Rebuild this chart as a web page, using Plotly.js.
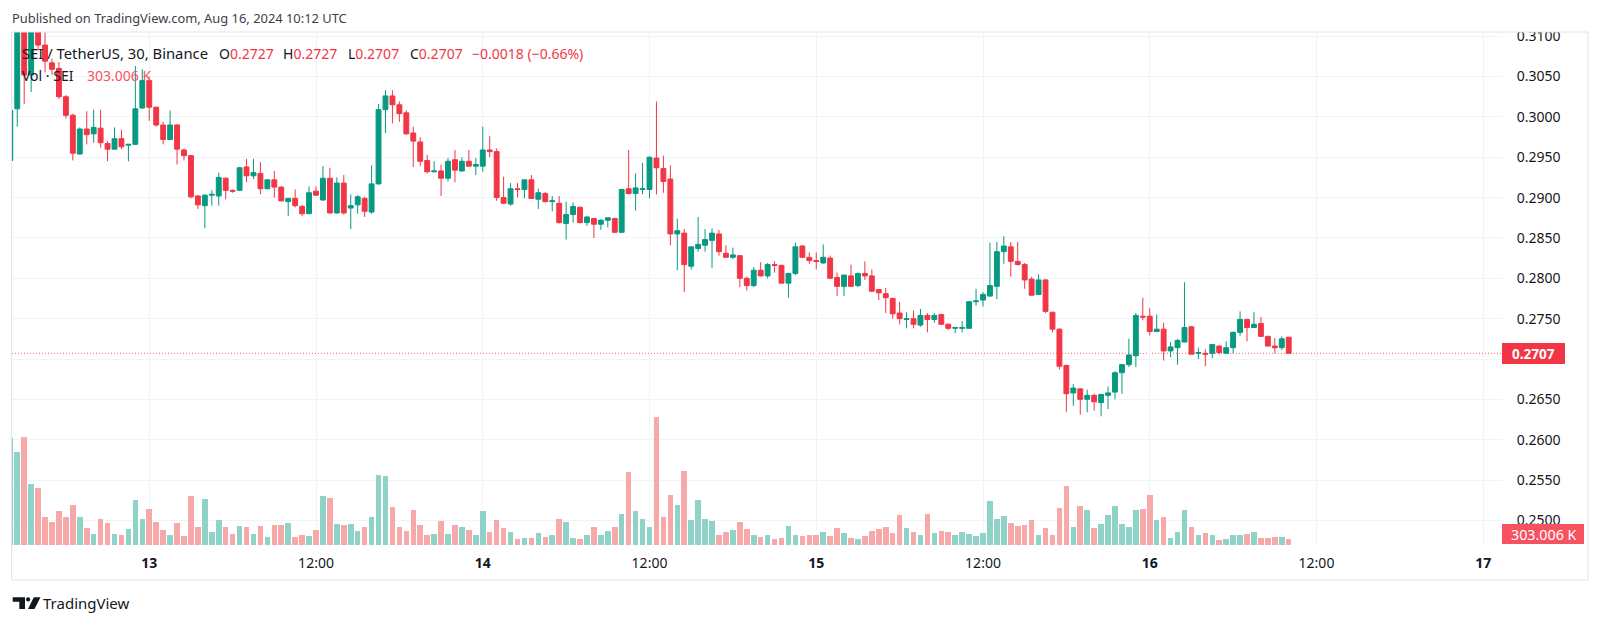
<!DOCTYPE html>
<html><head><meta charset="utf-8">
<script src="https://cdn.plot.ly/plotly-3.0.1.min.js"></script>
<style>html,body{margin:0;padding:0;background:#fff;}#chart{width:1600px;height:625px;}</style>
</head><body><div id="chart"></div>
<script>
// ---- data: SEI/USDT 30-minute candles, Binance, starting 2024-08-12 14:00 UTC ----
const startTimeUTC = Date.UTC(2024, 7, 12, 14, 0);
const candleMinutes = 30;

const open = [
0.2946,0.3010,0.3125,0.3052,0.3115,0.3089,0.3067,0.3060,0.3025,0.3002,
0.2954,0.2985,0.2979,0.2986,0.2967,0.2960,0.2973,0.2965,0.2966,0.3011,
0.3045,0.3012,0.2990,0.2972,0.2990,0.2959,0.2952,0.2902,0.2890,0.2903,
0.2902,0.2924,0.2909,0.2909,0.2938,0.2927,0.2930,0.2911,0.2922,0.2913,
0.2895,0.2899,0.2889,0.2880,0.2908,0.2897,0.2924,0.2881,0.2918,0.2887,
0.2891,0.2899,0.2882,0.2917,0.3009,0.3026,0.3015,0.3005,0.2980,0.2969,
0.2946,0.2932,0.2933,0.2924,0.2947,0.2933,0.2945,0.2939,0.2939,0.2959,
0.2957,0.2900,0.2892,0.2911,0.2910,0.2922,0.2898,0.2905,0.2895,0.2893,
0.2868,0.2879,0.2888,0.2869,0.2874,0.2867,0.2872,0.2874,0.2857,0.2911,
0.2905,0.2910,0.2910,0.2949,0.2936,0.2923,0.2855,0.2856,0.2815,0.2837,
0.2841,0.2847,0.2855,0.2831,0.2826,0.2828,0.2800,0.2791,0.2810,0.2803,
0.2817,0.2816,0.2794,0.2806,0.2840,0.2826,0.2822,0.2819,0.2825,0.2801,
0.2790,0.2803,0.2791,0.2806,0.2803,0.2786,0.2781,0.2775,0.2757,0.2749,
0.2750,0.2742,0.2754,0.2749,0.2755,0.2743,0.2738,0.2738,0.2738,0.2771,
0.2773,0.2778,0.2790,0.2833,0.2839,0.2821,0.2817,0.2799,0.2780,0.2798,
0.2758,0.2737,0.2692,0.2658,0.2663,0.2650,0.2655,0.2646,0.2655,0.2659,
0.2683,0.2693,0.2704,0.2753,0.2753,0.2734,0.2737,0.2710,0.2714,0.2721,
0.2740,0.2707,0.2707,0.2707,0.2716,0.2707,0.2714,0.2733,0.2749,0.2739,
0.2744,0.2728,0.2716,0.2714,0.2727
];
const high = [
0.3012,0.3135,0.3132,0.3130,0.3122,0.3110,0.3072,0.3068,0.3027,0.3004,
0.2987,0.3007,0.3009,0.3009,0.2970,0.2987,0.2984,0.2966,0.3063,0.3059,
0.3050,0.3013,0.2994,0.3008,0.2991,0.2961,0.2953,0.2903,0.2904,0.2909,
0.2931,0.2925,0.2910,0.2938,0.2948,0.2948,0.2944,0.2923,0.2933,0.2914,
0.2900,0.2910,0.2891,0.2914,0.2914,0.2939,0.2937,0.2925,0.2928,0.2904,
0.2903,0.2901,0.2940,0.3016,0.3033,0.3033,0.3019,0.3008,0.2988,0.2975,
0.2953,0.2945,0.2941,0.2949,0.2959,0.2950,0.2959,0.2949,0.2988,0.2976,
0.2961,0.2926,0.2918,0.2918,0.2922,0.2928,0.2911,0.2907,0.2902,0.2902,
0.2895,0.2894,0.2889,0.2877,0.2875,0.2873,0.2876,0.2875,0.2911,0.2959,
0.2930,0.2943,0.2951,0.3019,0.2952,0.2940,0.2874,0.2861,0.2839,0.2876,
0.2861,0.2862,0.2860,0.2841,0.2838,0.2829,0.2802,0.2814,0.2820,0.2819,
0.2821,0.2817,0.2807,0.2844,0.2841,0.2832,0.2832,0.2842,0.2828,0.2807,
0.2804,0.2817,0.2807,0.2821,0.2811,0.2786,0.2788,0.2776,0.2771,0.2758,
0.2760,0.2762,0.2757,0.2757,0.2756,0.2744,0.2739,0.2747,0.2772,0.2787,
0.2783,0.2844,0.2845,0.2852,0.2845,0.2845,0.2819,0.2802,0.2805,0.2799,
0.2758,0.2738,0.2693,0.2669,0.2663,0.2662,0.2657,0.2657,0.2666,0.2685,
0.2694,0.2725,0.2757,0.2776,0.2763,0.2755,0.2745,0.2721,0.2725,0.2795,
0.2741,0.2714,0.2712,0.2718,0.2717,0.2722,0.2734,0.2759,0.2750,0.2758,
0.2752,0.2729,0.2726,0.2728,0.2727
];
const low = [
0.2940,0.2988,0.3016,0.3031,0.3082,0.3055,0.3052,0.3022,0.2998,0.2946,
0.2953,0.2966,0.2968,0.2962,0.2945,0.2960,0.2960,0.2945,0.2965,0.3010,
0.2995,0.2988,0.2966,0.2972,0.2941,0.2946,0.2899,0.2886,0.2862,0.2890,
0.2890,0.2898,0.2906,0.2908,0.2919,0.2923,0.2904,0.2910,0.2900,0.2895,
0.2877,0.2888,0.2877,0.2880,0.2902,0.2896,0.2880,0.2880,0.2879,0.2861,
0.2880,0.2876,0.2880,0.2916,0.2980,0.2992,0.2994,0.2978,0.2938,0.2939,
0.2930,0.2931,0.2902,0.2920,0.2919,0.2932,0.2939,0.2928,0.2932,0.2950,
0.2896,0.2892,0.2890,0.2900,0.2899,0.2899,0.2886,0.2894,0.2883,0.2868,
0.2848,0.2869,0.2868,0.2865,0.2850,0.2860,0.2863,0.2856,0.2856,0.2904,
0.2884,0.2904,0.2899,0.2904,0.2906,0.2841,0.2810,0.2783,0.2811,0.2833,
0.2833,0.2813,0.2828,0.2826,0.2824,0.2789,0.2785,0.2789,0.2802,0.2800,
0.2807,0.2794,0.2776,0.2804,0.2825,0.2818,0.2811,0.2818,0.2799,0.2778,
0.2778,0.2790,0.2789,0.2798,0.2783,0.2773,0.2757,0.2750,0.2743,0.2738,
0.2738,0.2740,0.2733,0.2745,0.2742,0.2736,0.2732,0.2733,0.2738,0.2766,
0.2765,0.2777,0.2774,0.2818,0.2802,0.2816,0.2787,0.2779,0.2779,0.2757,
0.2733,0.2687,0.2634,0.2642,0.2631,0.2634,0.2636,0.2629,0.2638,0.2650,
0.2657,0.2690,0.2690,0.2748,0.2729,0.2734,0.2698,0.2702,0.2693,0.2721,
0.2706,0.2700,0.2691,0.2701,0.2706,0.2707,0.2707,0.2729,0.2722,0.2739,
0.2728,0.2716,0.2707,0.2711,0.2707
];
const close = [
0.3008,0.3125,0.3052,0.3120,0.3089,0.3069,0.3059,0.3025,0.3002,0.2955,
0.2985,0.2978,0.2987,0.2968,0.2960,0.2973,0.2963,0.2966,0.3010,0.3045,
0.3012,0.2990,0.2972,0.2990,0.2960,0.2952,0.2901,0.2891,0.2903,0.2904,
0.2925,0.2909,0.2908,0.2937,0.2927,0.2931,0.2911,0.2922,0.2913,0.2896,
0.2899,0.2890,0.2880,0.2906,0.2903,0.2924,0.2881,0.2918,0.2881,0.2890,
0.2901,0.2883,0.2917,0.3009,0.3026,0.3015,0.3004,0.2979,0.2970,0.2945,
0.2932,0.2933,0.2924,0.2945,0.2934,0.2945,0.2939,0.2941,0.2959,0.2957,
0.2900,0.2893,0.2911,0.2910,0.2922,0.2899,0.2906,0.2895,0.2896,0.2869,
0.2879,0.2889,0.2869,0.2876,0.2867,0.2872,0.2875,0.2857,0.2910,0.2905,
0.2912,0.2911,0.2950,0.2937,0.2920,0.2855,0.2859,0.2817,0.2839,0.2842,
0.2848,0.2856,0.2833,0.2826,0.2829,0.2800,0.2791,0.2810,0.2803,0.2817,
0.2816,0.2794,0.2806,0.2839,0.2826,0.2822,0.2821,0.2826,0.2800,0.2790,
0.2804,0.2790,0.2806,0.2803,0.2784,0.2782,0.2776,0.2756,0.2750,0.2750,
0.2743,0.2754,0.2749,0.2754,0.2743,0.2738,0.2739,0.2739,0.2771,0.2772,
0.2780,0.2791,0.2833,0.2840,0.2821,0.2817,0.2798,0.2779,0.2798,0.2759,
0.2737,0.2691,0.2657,0.2664,0.2650,0.2655,0.2647,0.2656,0.2658,0.2683,
0.2693,0.2705,0.2754,0.2752,0.2734,0.2737,0.2710,0.2715,0.2723,0.2739,
0.2706,0.2708,0.2706,0.2718,0.2708,0.2714,0.2733,0.2749,0.2739,0.2743,
0.2728,0.2716,0.2714,0.2725,0.2707
];
// volume in thousands of SEI
const volumeK = [
5400,4670,5426,3058,2856,1428,1142,1714,1428,1999,
1428,857,571,1294,1092,538,521,806,2251,1294,
1814,1142,756,487,1109,437,2470,907,2302,672,
1243,907,538,958,907,571,958,403,1008,1008,
1092,403,487,437,756,2470,2386,1058,1008,1058,
706,907,1428,3528,3478,1915,907,706,1764,1008,
487,538,1193,538,1008,907,756,487,1714,672,
1243,857,672,302,353,353,622,386,487,1294,
1142,353,302,521,907,521,706,907,1562,3679,
1714,1294,907,6434,1394,2520,1999,3730,1260,2251,
1294,1193,521,672,756,1142,806,487,386,487,
302,353,958,487,437,521,521,672,470,857,
622,353,302,437,706,806,907,622,1529,857,
672,521,1579,622,722,672,487,672,571,437,
588,2201,1294,1478,1109,958,1008,1243,521,857,
521,1865,2990,907,1949,1764,857,1058,1529,1949,
1058,907,1764,1814,2520,1243,1394,353,672,1764,
907,487,622,521,252,302,487,487,571,672,
353,353,403,403,303.006
];

const timeTickVals = ['2024-08-13 00:00','2024-08-13 12:00','2024-08-14 00:00','2024-08-14 12:00',
  '2024-08-15 00:00','2024-08-15 12:00','2024-08-16 00:00','2024-08-16 12:00','2024-08-17 00:00'];
const timeTickText = ['<b>13</b>','12:00','<b>14</b>','12:00','<b>15</b>','12:00','<b>16</b>','12:00','<b>17</b>'];
const priceTickVals = [0.2500,0.2550,0.2600,0.2650,0.2700,0.2750,0.2800,0.2850,0.2900,0.2950,0.3000,0.3050,0.3100];
const priceTickText = ['0.2500','0.2550','0.2600','0.2650','0.2700','0.2750','0.2800','0.2850','0.2900','0.2950','0.3000','0.3050','0.3100'];

const lastPrice = 0.2707;
const lastPriceLabel = '0.2707';
const lastVolumeLabel = '303.006 K';
const headerText = 'Published on TradingView.com, Aug 16, 2024 10:12 UTC';

// ---- derived ----
function fmt(ms){ return new Date(ms).toISOString().slice(0,16).replace('T',' '); }
const times = open.map((_, i) => fmt(startTimeUTC + i * candleMinutes * 60000));

const UP = '#089981', DOWN = '#F23645';
const volColors = close.map((c, i) => c >= open[i] ? '#8fd2c7' : '#f7a8a8');

// pixel layout helpers
const W = 1600, H = 625, L = 12, R = 1502, T = 32, B = 545;
const px = x => (x - L) / (R - L);
const py = y => (B - y) / (B - T);
const FONT = "'Noto Sans', sans-serif";
const TXT = '#131722';

const volTrace = {
  type: 'bar', x: times, y: volumeK, yaxis: 'y2',
  width: candleMinutes * 60000 * 0.8,
  marker: { color: volColors, line: { width: 0 } },
  hoverinfo: 'skip'
};
const candleTrace = {
  type: 'candlestick', x: times, open: open, high: high, low: low, close: close,
  increasing: { line: { color: UP, width: 1 }, fillcolor: UP },
  decreasing: { line: { color: DOWN, width: 1 }, fillcolor: DOWN },
  whiskerwidth: 0, hoverinfo: 'skip'
};

function rectShape(x0, y0, x1, y1, fill, line, layer) {
  return { type: 'rect', xref: 'paper', yref: 'paper', x0: px(x0), x1: px(x1), y0: py(y1), y1: py(y0),
    fillcolor: fill, line: line || { width: 0 }, layer: layer || 'above' };
}
function P(x, y) { return px(x).toFixed(5) + ',' + py(y).toFixed(5); }

const shapes = [
  { type: 'line', xref: 'paper', yref: 'y', x0: 0, x1: 1, y0: lastPrice, y1: lastPrice,
    line: { color: 'rgba(242,54,69,0.75)', width: 1, dash: '1px,2px' }, layer: 'below' },
  rectShape(R, 0, W, T, '#ffffff'),
  rectShape(R, 343, 1565, 364, '#F23645'),
  rectShape(R, 524, 1584, 544, '#F7525F'),
  rectShape(11.5, 32, 1588, 580, 'rgba(0,0,0,0)', { color: '#e0e3eb', width: 1 }),
  // TradingView logo mark
  { type: 'path', xref: 'paper', yref: 'paper', layer: 'above', fillcolor: TXT, line: { width: 0 },
    path: 'M' + P(12.7,597.3) + ' L' + P(25,597.3) + ' L' + P(25,609) + ' L' + P(19.3,609) + ' L' + P(19.3,601.8) + ' L' + P(12.7,601.8) + ' Z' },
  { type: 'circle', xref: 'paper', yref: 'paper', layer: 'above', fillcolor: TXT, line: { width: 0 },
    x0: px(26), x1: px(30.2), y0: py(601.5), y1: py(597.3) },
  { type: 'path', xref: 'paper', yref: 'paper', layer: 'above', fillcolor: TXT, line: { width: 0 },
    path: 'M' + P(33.8,597.3) + ' L' + P(40.5,597.3) + ' L' + P(34.5,609) + ' L' + P(28,609) + ' Z' }
];

function ann(x, y, text, opts) {
  opts = opts || {};
  return Object.assign({ xref: 'paper', yref: 'paper', x: px(x), y: py(y), text: text, showarrow: false,
    xanchor: 'left', yanchor: 'middle', borderpad: 0,
    font: { family: FONT, size: opts.size || 14, color: opts.color || TXT } }, opts.extra || {});
}
const red = s => '<span style="color:#F23645">' + s + '</span>';
const annotations = [
  ann(11, 18.5, headerText, { size: 12.9, color: '#3c3f4a' }),
  ann(21, 53, 'SEI / TetherUS, 30, Binance', { size: 14.8 }),
  ann(218, 53, 'O' + red('0.2727'), { size: 14 }),
  ann(282, 53, 'H' + red('0.2727'), { size: 14 }),
  ann(347, 53, 'L' + red('0.2707'), { size: 14 }),
  ann(409, 53, 'C' + red('0.2707'), { size: 14 }),
  ann(471, 53, red('\u22120.0018 (\u22120.66%)'), { size: 14 }),
  ann(21, 75, 'Vol \u00b7 SEI', { size: 14 }),
  ann(86, 75, '<span style="color:#F7525F">303.006 K</span>', { size: 14 }),
  ann(1533.5, 353.5, '<b>' + lastPriceLabel + '</b>', { size: 13.5, color: '#ffffff', extra: { xanchor: 'center' } }),
  ann(1544, 534, lastVolumeLabel, { size: 14.3, color: '#ffffff', extra: { xanchor: 'center' } }),
  ann(41.5, 603, 'TradingView', { size: 15 })
];

const layout = {
  width: W, height: H,
  margin: { l: L, r: W - R, t: T, b: H - B, pad: 0 },
  paper_bgcolor: '#ffffff', plot_bgcolor: '#ffffff',
  showlegend: false, dragmode: false, boxgap: 0.3, boxgroupgap: 0, bargap: 0,
  font: { family: FONT, color: TXT },
  xaxis: {
    type: 'date', range: ['2024-08-12 14:07:20', '2024-08-17 01:21:00'],
    tickmode: 'array', tickvals: timeTickVals, ticktext: timeTickText,
    showgrid: true, gridcolor: '#f0f3fa', gridwidth: 1, zeroline: false, showline: false,
    ticks: 'outside', ticklen: 5, tickcolor: 'rgba(0,0,0,0)',
    tickfont: { family: FONT, size: 14, color: TXT },
    rangeslider: { visible: false }, fixedrange: true
  },
  yaxis: {
    side: 'right', range: [0.246952, 0.310520],
    tickmode: 'array', tickvals: priceTickVals, ticktext: priceTickText,
    showgrid: true, gridcolor: '#f0f3fa', gridwidth: 1, zeroline: false, showline: false,
    ticks: 'outside', ticklen: 11, tickcolor: 'rgba(0,0,0,0)',
    tickfont: { family: FONT, size: 14, color: TXT }, fixedrange: true
  },
  yaxis2: { overlaying: 'y', side: 'right', range: [0, 25855], visible: false, showgrid: false, zeroline: false, fixedrange: true },
  shapes: shapes, annotations: annotations
};

Plotly.newPlot('chart', [volTrace, candleTrace], layout, { staticPlot: true, displayModeBar: false });
</script>
</body></html>
